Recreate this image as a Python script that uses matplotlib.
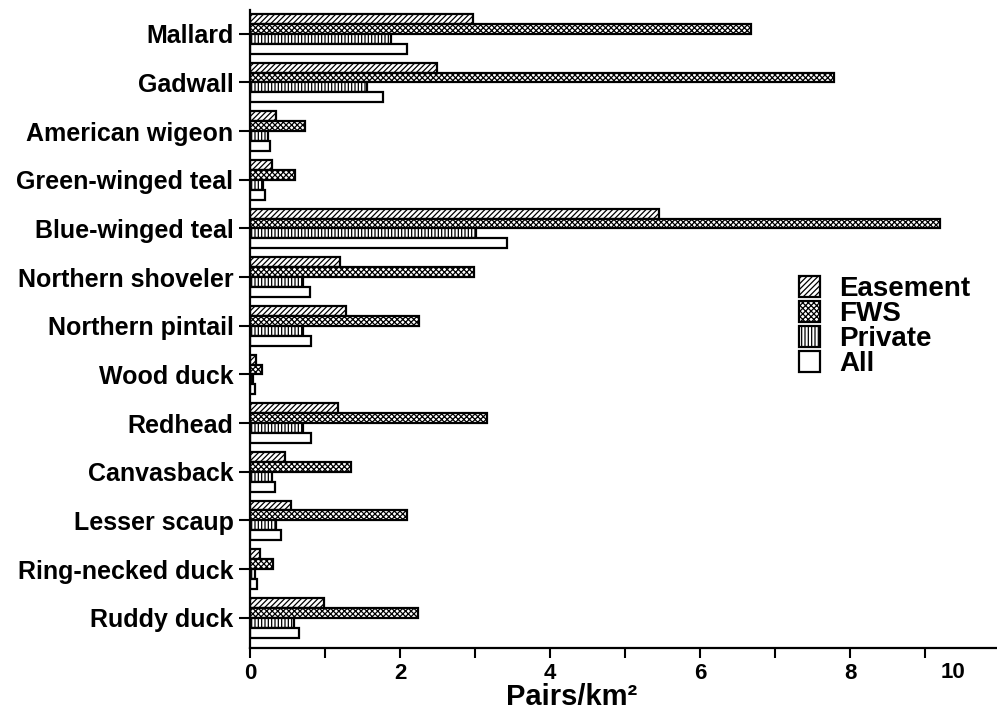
import numpy as np
import matplotlib.pyplot as plt
from matplotlib.patches import Patch

plt.rcParams['font.family'] = ['Liberation Sans', 'DejaVu Sans']
plt.rcParams['font.weight'] = 'bold'
plt.rcParams['hatch.linewidth'] = 0.9

species = ['Mallard', 'Gadwall', 'American wigeon', 'Green-winged teal',
           'Blue-winged teal', 'Northern shoveler', 'Northern pintail',
           'Wood duck', 'Redhead', 'Canvasback', 'Lesser scaup',
           'Ring-necked duck', 'Ruddy duck']

easement = [2.97, 2.49, 0.34, 0.29, 5.45, 1.20, 1.28, 0.08, 1.17, 0.47, 0.55, 0.13, 0.98]
fws = [6.68, 7.79, 0.73, 0.60, 9.20, 2.99, 2.25, 0.16, 3.16, 1.35, 2.09, 0.30, 2.24]
private = [1.88, 1.56, 0.24, 0.17, 3.01, 0.71, 0.71, 0.04, 0.71, 0.29, 0.35, 0.07, 0.58]
all_land = [2.09, 1.77, 0.27, 0.20, 3.43, 0.80, 0.81, 0.06, 0.81, 0.33, 0.41, 0.09, 0.65]

series = [('Easement', easement, '//////'),
          ('FWS', fws, 'xxxxxx'),
          ('Private', private, '|||||'),
          ('All', all_land, None)]

fig = plt.figure(figsize=(9.97, 7.13), dpi=100)
ax = fig.add_axes([0.2508, 0.0912, 0.7492, 0.8948])

y = np.arange(len(species))
h = 0.205
for i, (name, vals, hatch) in enumerate(series):
    ax.barh(y + (i - 1.5) * h, vals, height=h, color='white', edgecolor='black',
            linewidth=1.6, hatch=hatch, label=name)

ax.set_ylim(12.62, -0.49)
ax.set_xlim(0, 9.96)
ax.set_yticks(y)
ax.set_yticklabels(species, fontsize=18, fontweight='bold')
ax.set_xticks([0, 2, 4, 6, 8])
ax.set_xticklabels(['0', '2', '4', '6', '8'], fontsize=16, fontweight='bold')
ax.set_xticks([1, 3, 5, 7, 9], minor=True)
ax.tick_params(axis='y', length=8, width=1.5, pad=4)
ax.tick_params(axis='x', which='both', length=7, width=1.5, pad=4)
# the "10" label sits off its tick in the original
ax.text(9.37, -0.022, '10', transform=ax.get_xaxis_transform(), ha='center',
        va='top', fontsize=16, fontweight='bold')

for s in ['top', 'right']:
    ax.spines[s].set_visible(False)
for s in ['left', 'bottom']:
    ax.spines[s].set_linewidth(1.6)

ax.set_xlabel('Pairs/km²', fontsize=21, fontweight='bold')
ax.xaxis.set_label_coords(0.43, -0.055)

handles = [Patch(facecolor='white', edgecolor='black', hatch=hatch, linewidth=1.6)
           for _, _, hatch in series]
leg = ax.legend(handles, [s[0] for s in series], loc='upper left',
                bbox_to_anchor=(0.716, 0.605), frameon=False, fontsize=20,
                handlelength=0.75, handleheight=0.8, labelspacing=-0.05,
                handletextpad=0.7, borderpad=0)
for t in leg.get_texts():
    t.set_fontweight('bold')

fig.savefig('out.png', dpi=100)
